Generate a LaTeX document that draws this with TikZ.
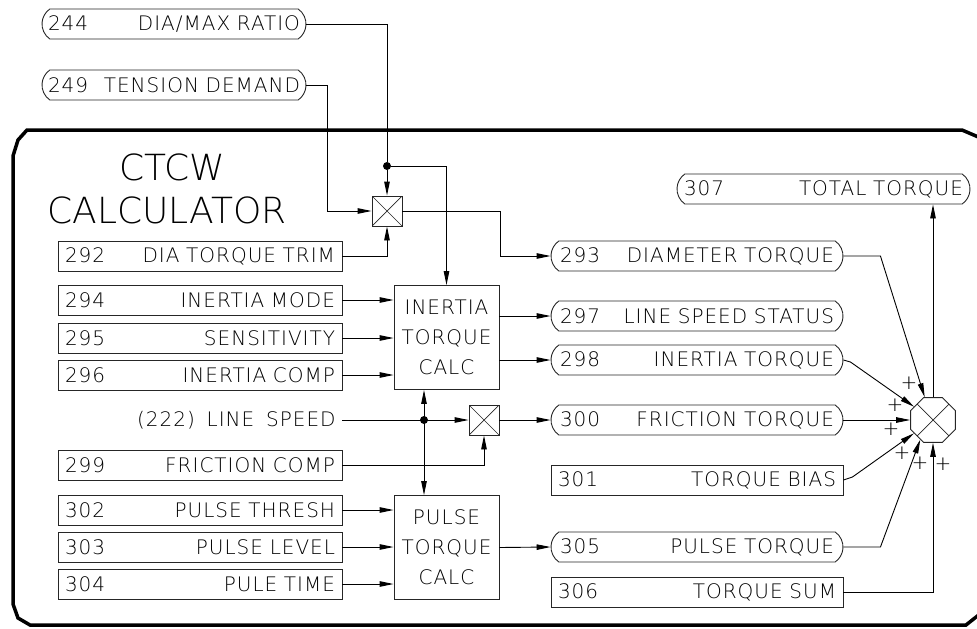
\documentclass[tikz,border=0pt]{standalone}
\usepackage{fontspec}
\setmainfont{DejaVu Sans ExtraLight}[WordSpace=1.6,LetterSpace=5]
\usetikzlibrary{arrows.meta}
\usetikzlibrary{shapes.geometric}
\usetikzlibrary{shapes.misc}
\newcommand{\lblfont}{\fontsize{20}{30}\selectfont}
\newcommand{\ttlfont}{\fontsize{36}{44}\selectfont\addfontfeature{LetterSpace=0}}
\tikzset{
  parbox/.style={draw=black!85, minimum height=30pt, inner xsep=7pt, inner ysep=0pt, text width=270pt, font=\lblfont},
  pill/.style={rounded rectangle, rounded rectangle arc length=110, draw=black!85, minimum height=30pt, minimum width=292pt, inner xsep=0pt, inner ysep=0pt, text width=274pt, font=\lblfont},
  calcbox/.style={draw=black!85, minimum width=105pt, minimum height=104pt, align=center, font=\lblfont},
  xcross/.style={path picture={\draw[line width=0.7pt] (path picture bounding box.south west) -- (path picture bounding box.north east) (path picture bounding box.north west) -- (path picture bounding box.south east);}},
  mult/.style={draw=black!85, minimum size=30pt, inner sep=0pt, xcross},
  junc/.style={regular polygon, regular polygon sides=8, minimum size=48.5pt, inner sep=0pt, draw=black!85, xcross},
  dot/.style={circle, fill, inner sep=0pt, minimum size=8pt},
  plus/.style={font=\lblfont, inner sep=0pt}
}

\begin{document}
\begin{tikzpicture}[x=1pt, y=-1pt, line width=0.9pt, >={Triangle[length=14pt,width=5.5pt]}]
\useasboundingbox (0,0) rectangle (977,629);
\draw[line width=3.5pt] (13,156) -- (18,140) -- (27,130) -- (962,130) -- (990,142) -- (990,606) -- (966,625) -- (30,625) -- (18,618) -- (13,604) -- cycle;

\node[font=\ttlfont] (ttlA) at (172,167) {CTCW};
\node[font=\ttlfont] (ttlB) at (167,210) {CALCULATOR};

\node[pill, minimum width=264pt, text width=252pt] (r244) at (174,24) {244\hfill DIA/MAX~RATIO};
\node[pill, minimum width=264pt, text width=252pt] (r249) at (174,85) {249\hfill TENSION~DEMAND};

\node[parbox] (p292) at (200,256) {292\hfill DIA~TORQUE~TRIM};
\node[parbox] (p294) at (200,300) {294\hfill INERTIA~MODE};
\node[parbox] (p295) at (200,338) {295\hfill SENSITIVITY};
\node[parbox] (p296) at (200,375) {296\hfill INERTIA~COMP};
\node[font=\lblfont, anchor=east, inner sep=0pt] (ls) at (336,420) {(222)~LINE~SPEED};
\node[parbox] (p299) at (200,465) {299\hfill FRICTION~COMP};
\node[parbox] (p302) at (200,510) {302\hfill PULSE~THRESH};
\node[parbox] (p303) at (200,547) {303\hfill PULSE~LEVEL};
\node[parbox] (p304) at (200,584) {304\hfill PULE~TIME};

\node[mult] (mulA) at (387,211) {};
\node[mult] (mulB) at (484,420) {};
\node[dot] (dotA) at (387,166) {};
\node[dot] (dotB) at (424,420) {};
\node[calcbox] (icalc) at (446.5,337.5) {INERTIA\\TORQUE\\CALC};
\node[calcbox] (pcalc) at (446.5,547.5) {PULSE\\TORQUE\\CALC};

\node[pill, minimum width=293pt, text width=279pt] (r307) at (823.5,189) {307\hfill TOTAL~TORQUE};
\node[pill] (r293) at (697,256) {293\hfill DIAMETER~TORQUE};
\node[pill] (r297) at (697,316) {297\hfill LINE~SPEED~STATUS};
\node[pill] (r298) at (697,360) {298\hfill INERTIA~TORQUE};
\node[pill] (r300) at (697,420) {300\hfill FRICTION~TORQUE};
\node[parbox, text width=278pt] (p301) at (697,480) {301\hfill TORQUE~BIAS};
\node[pill] (r305) at (697,547) {305\hfill PULSE~TORQUE};
\node[parbox, text width=278pt] (p306) at (697,592) {306\hfill TORQUE~SUM};
\node[junc] (sum) at (933,420) {};

\draw (r244.east) -| (dotA);
\draw[->] (dotA) -- (mulA.north);
\draw[->] (dotA) -| (icalc.north);
\draw[->] (r249.east) -- ++(21,0) |- (mulA.west);
\draw[->] (p292.east) -| (mulA.south);
\draw[->] (mulA.east) -- ++(98,0) |- (r293.west);
\foreach \p in {p294,p295,p296} {
  \draw[->] (\p.east) -- (\p.east -| icalc.west);
}
\foreach \p in {p302,p303,p304} {
  \draw[->] (\p.east) -- (\p.east -| pcalc.west);
}
\draw[->] (ls.east) ++(6,0) -- (mulB.west);
\draw[<->] (dotB |- icalc.south) -- (dotB |- pcalc.north);
\draw[->] (p299.east) -| (mulB.south);
\draw[->] (mulB.east) -- (r300.west);
\draw[->] (icalc.east |- r297) -- (r297.west);
\draw[->] (icalc.east |- r298) -- (r298.west);
\draw[->] (pcalc.east) -- (r305.west);

\draw[->] (r293.east) -- ++(37,0) -- (sum.110);
\draw[->] (r298.east) -- ++(7,2) -- (sum.145);
\draw[->] (r300.east) -- (sum.west);
\draw[->] (p301.east) -- ++(9,-3) -- (sum.215);
\draw[->] (r305.east) -- ++(37,0) -- (sum.237);
\draw[->] (p306.east) -| (sum.south);
\draw[->] (sum.north) -- (sum.north |- r307.south);

\foreach \x/\y [count=\i] in {909/383, 895/405, 891/429, 902/453, 920/463, 943/464} {
  \node[plus] (plus\i) at (\x,\y) {+};
}
\end{tikzpicture}
\end{document}
